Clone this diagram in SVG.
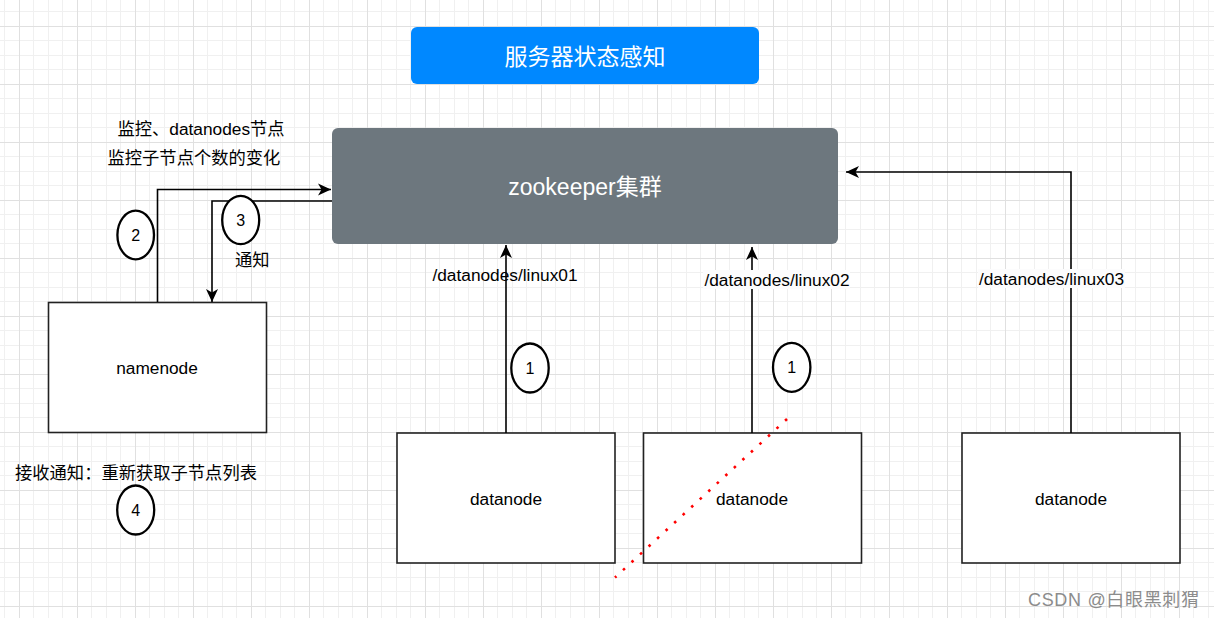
<svg xmlns="http://www.w3.org/2000/svg" width="1214" height="618" viewBox="0 0 1214 618">
<style>
text{font-family:"Liberation Sans","Noto Sans CJK SC",sans-serif;fill:#000}
.lbl{font-size:17.3px}
.ctr{text-anchor:middle}
.box{fill:#fff;stroke:#222;stroke-width:1.6}
.num{fill:#fff;stroke:#000;stroke-width:2.3}
.conn{fill:none;stroke:#000;stroke-width:1.6}
.wt{fill:#fff;font-size:23px;text-anchor:middle}
</style>
<defs>
<pattern id="grid" patternUnits="userSpaceOnUse" x="19" y="26" width="58" height="58">
<rect width="58" height="58" fill="#fff"/>
<g fill="#f0f0f0">
<rect x="14" y="0" width="1" height="58"/><rect x="29" y="0" width="1" height="58"/><rect x="43" y="0" width="1" height="58"/>
<rect x="0" y="14" width="58" height="1"/><rect x="0" y="29" width="58" height="1"/><rect x="0" y="43" width="58" height="1"/>
</g>
<g fill="#e0e0e0">
<rect x="0" y="0" width="1" height="58"/><rect x="0" y="0" width="58" height="1"/>
</g>
</pattern>
<marker id="arr" viewBox="0 0 13 13" refX="13" refY="6.5" markerWidth="13" markerHeight="13" markerUnits="userSpaceOnUse" orient="auto">
<path d="M0,0.5 L13,6.5 L0,12.5 L3.5,6.5 Z" fill="#000"/>
</marker>
</defs>
<rect width="1214" height="618" fill="url(#grid)"/>

<g id="title">
<rect x="411" y="27" width="348" height="57" rx="6" fill="#0088ff"/>
<text class="wt" x="585" y="65">服务器状态感知</text>
</g>

<g id="zookeeper">
<rect x="332" y="128" width="506" height="116" rx="6" fill="#6d777e"/>
<text class="wt" x="585" y="195">zookeeper集群</text>
</g>

<g id="namenode">
<rect class="box" x="48.5" y="302.5" width="218" height="130"/>
<text class="lbl ctr" x="157" y="374">namenode</text>
</g>

<g id="datanode1">
<rect class="box" x="397" y="433" width="218" height="130"/>
<text class="lbl ctr" x="506" y="505">datanode</text>
</g>

<g id="datanode2">
<rect class="box" x="643.5" y="433" width="218" height="130"/>
<text class="lbl ctr" x="752" y="505">datanode</text>
</g>

<g id="datanode3">
<rect class="box" x="962" y="433" width="218" height="130"/>
<text class="lbl ctr" x="1071" y="505">datanode</text>
</g>

<g id="connectors">
<path class="conn" d="M157.5,302 V189.5 H331" marker-end="url(#arr)"/>
<path class="conn" d="M332,201 H212 V302" marker-end="url(#arr)"/>
<path class="conn" d="M506,433 V245" marker-end="url(#arr)"/>
<path class="conn" d="M752,433 V247" marker-end="url(#arr)"/>
<path class="conn" d="M1071,433 V172 H846" marker-end="url(#arr)"/>
</g>

<g id="labels">
<text class="lbl ctr" x="505" y="281">/datanodes/linux01</text>
<rect x="703" y="270" width="147" height="19" fill="#fcfcfd"/>
<text class="lbl ctr" x="777" y="286">/datanodes/linux02</text>
<rect x="978" y="269" width="147" height="19" fill="#fcfcfd"/>
<text class="lbl ctr" x="1051.5" y="285">/datanodes/linux03</text>
<text class="lbl" x="117.5" y="135">监控、datanodes节点</text>
<text class="lbl" x="107.5" y="164">监控子节点个数的变化</text>
<text class="lbl" x="235" y="266">通知</text>
<text class="lbl" x="15" y="479">接收通知：重新获取子节点列表</text>
</g>

<g id="step2">
<ellipse class="num" cx="135.7" cy="235" rx="18.3" ry="24.3"/>
<text class="ctr" x="135.7" y="241" font-size="16">2</text>
</g>
<g id="step3">
<ellipse class="num" cx="240.7" cy="220" rx="18.5" ry="24.2"/>
<text class="ctr" x="240.7" y="226" font-size="16">3</text>
</g>
<g id="step4">
<ellipse class="num" cx="135.7" cy="510" rx="18.5" ry="24.5"/>
<text class="ctr" x="135.7" y="516" font-size="16">4</text>
</g>
<g id="step1a">
<ellipse class="num" cx="530" cy="368" rx="18.7" ry="24.5"/>
<text class="ctr" x="530" y="374" font-size="16">1</text>
</g>
<g id="step1b">
<ellipse class="num" cx="791.7" cy="367.3" rx="18.7" ry="24.5"/>
<text class="ctr" x="791.7" y="373.3" font-size="16">1</text>
</g>

<g id="cross">
<line x1="787" y1="419" x2="615" y2="577.5" stroke="#ff0000" stroke-width="2.6" stroke-dasharray="2.6 9.0"/>
</g>

<text x="1028" y="606" font-size="18" style="fill:#8c8c8c" textLength="171">CSDN @白眼黑刺猬</text>
</svg>
